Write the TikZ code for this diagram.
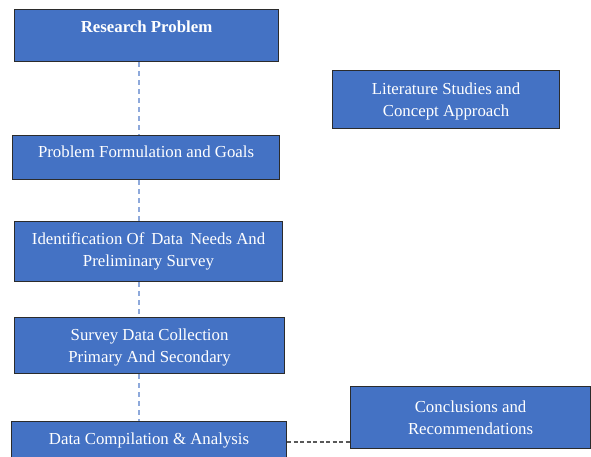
\documentclass[tikz,border=0pt]{standalone}
\usepackage{fontspec}
\setmainfont{Liberation Serif}
\definecolor{boxblue}{HTML}{4472C4}
\definecolor{boxedge}{HTML}{2B2B2B}
\definecolor{linkblue}{HTML}{8EA9DB}
\definecolor{linkgray}{HTML}{595959}
\begin{document}
\begin{tikzpicture}[x=1pt,y=-1pt,
  stagebox/.style={rectangle, fill=boxblue, draw=boxedge, line width=1.1pt,
    anchor=north west, inner sep=0pt, align=center, text=white,
    font=\fontsize{16.8}{22}\selectfont},
  flowlink/.style={draw=linkblue, line width=1.4pt, dash pattern=on 5pt off 4pt},
  sidelink/.style={draw=linkgray, line width=1.4pt, dash pattern=on 4pt off 2.5pt}]
\useasboundingbox (0,0) rectangle (591,457);
\clip (0,0) rectangle (591,457);
\fill[white] (0,0) rectangle (591,457);

% main column of stages
\node[stagebox, minimum width=264, minimum height=52, text depth=17pt] (rp) at (14,9)
  {\bfseries Research Problem};
\node[stagebox, minimum width=267, minimum height=44, text depth=11pt] (pf) at (12,135)
  {Problem Formulation and Goals};
\node[stagebox, minimum width=268, minimum height=60] (id) at (14,221)
  {Identification Of\, Data\, Needs And\\Preliminary Survey};
\node[stagebox, minimum width=270, minimum height=56, text height=37.5pt, text depth=3.7pt] (sv) at (14,317)
  {Survey Data Collection\\Primary And Secondary};
\node[stagebox, minimum width=275, minimum height=45, text depth=11pt] (dc) at (11,421)
  {Data Compilation \& Analysis};

% side stages
\node[stagebox, minimum width=227, minimum height=58, text height=37.5pt, text depth=3.7pt] (lit) at (332,70)
  {Literature Studies and\\Concept Approach};
\node[stagebox, minimum width=240, minimum height=62] (cr) at (350,386)
  {Conclusions and\\Recommendations};

% dashed spine through the main column
\coordinate (spine) at (139,0);
\draw[flowlink] (rp.south -| spine) -- (pf.north -| spine);
\draw[flowlink] (pf.south -| spine) -- (id.north -| spine);
\draw[flowlink] (id.south -| spine) -- (sv.north -| spine);
\draw[flowlink] (sv.south -| spine) -- (dc.north -| spine);

% link from analysis to conclusions
\coordinate (side) at (0,442);
\draw[sidelink] (dc.east |- side) -- (cr.west |- side);
\end{tikzpicture}
\end{document}
